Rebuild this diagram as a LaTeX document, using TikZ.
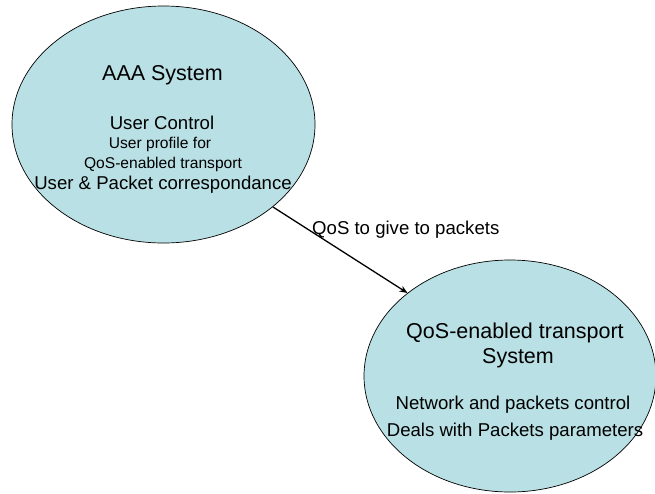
\documentclass[tikz,border=0pt]{standalone}
\usepackage{fontspec}
\setmainfont{Liberation Sans}
\usetikzlibrary{shapes.geometric,arrows.meta}
\definecolor{bubble}{RGB}{185,224,228}
\tikzset{
  bubble/.style={ellipse, draw=black, line width=0.7pt, fill=bubble, inner sep=0pt},
  big/.style={anchor=base, inner sep=0pt, font=\fontsize{21.5}{24}\selectfont},
  body/.style={anchor=base, inner sep=0pt, font=\fontsize{18.6}{21}\selectfont},
  small/.style={anchor=base, inner sep=0pt, font=\fontsize{15.6}{18}\selectfont},
  link/.style={line width=1.3pt, -{Stealth[length=8pt,width=6.5pt]}}
}
\begin{document}
\begin{tikzpicture}[x=1pt, y=-1pt]
  \useasboundingbox (0,0) rectangle (655,493);
  \begin{scope}
    \clip (0,0) rectangle (655,493);
    % the two systems
    \node[bubble, minimum width=303pt, minimum height=237pt] (aaa) at (163.5,124.5) {};
    \node[bubble, minimum width=292pt, minimum height=232pt] (qos) at (510,376) {};
  \end{scope}

  % AAA system text
  \node[big]   (aaaT) at (162.5,80)   {AAA System};
  \node[body]  (aaa1) at (162,129.5)  {User Control};
  \node[small] (aaa2) at (160,148)    {User profile for};
  \node[small] (aaa3) at (163,168)    {QoS-enabled transport};
  \node[body]  (aaa4) at (163,189)    {User \& Packet correspondance};

  % transport system text
  \node[big]   (qosT) at (515,338)    {QoS-enabled transport};
  \node[big]   (qosS) at (518,363)    {System};
  \node[body]  (qos1) at (513,409)    {Network and packets control};
  \node[body]  (qos2) at (515,436)    {Deals with Packets parameters};

  % connector and its label
  \draw[link] (aaa.-37.6) -- (qos.141.2);
  \node[body, anchor=base west] (lbl) at (312,234) {QoS to give to packets};
\end{tikzpicture}
\end{document}
